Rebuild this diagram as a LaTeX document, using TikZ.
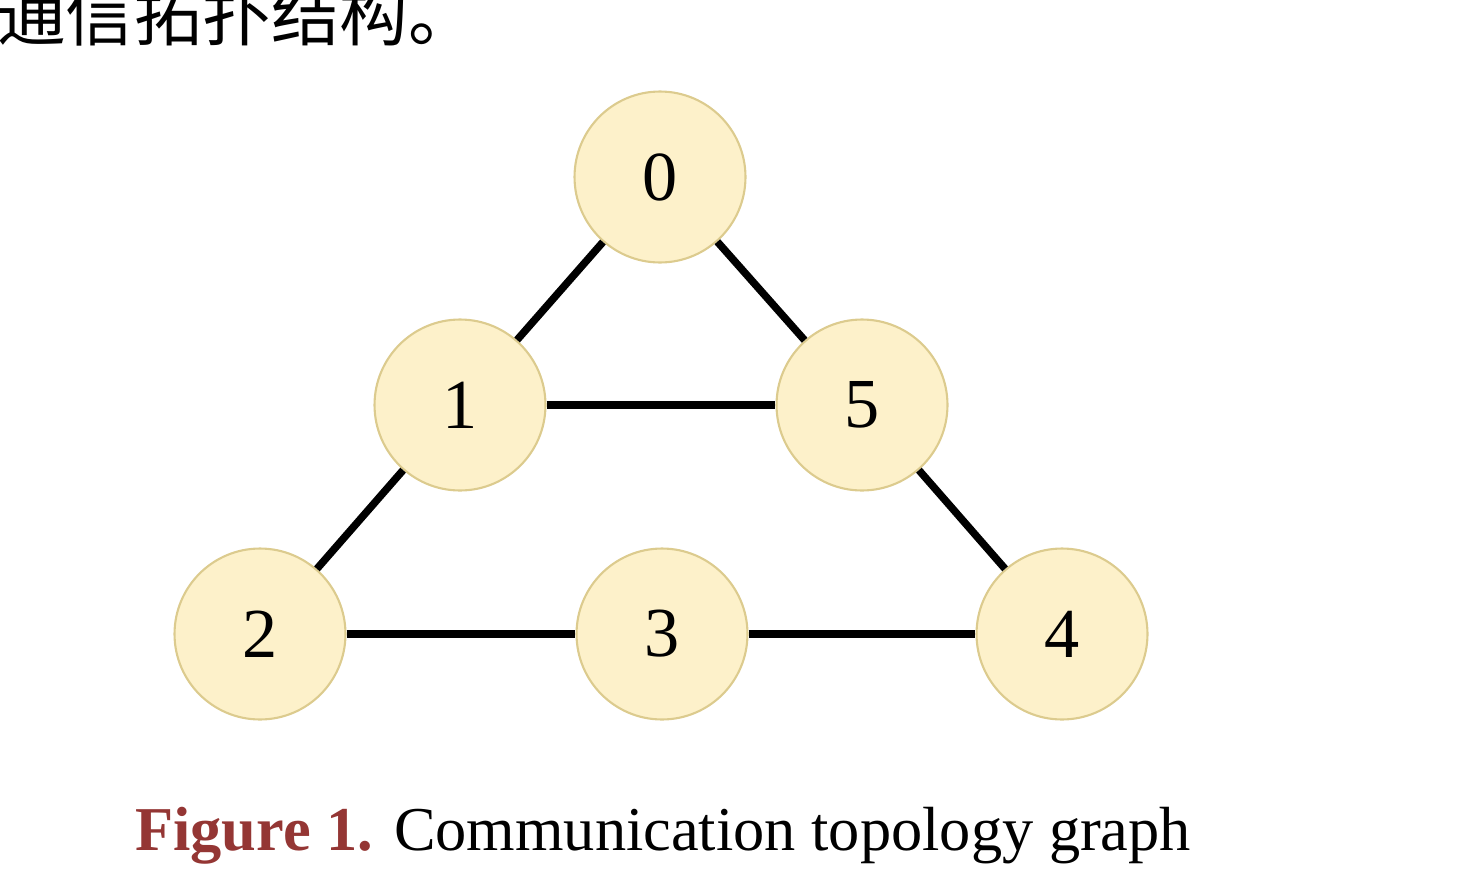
\documentclass[tikz,border=0pt]{standalone}
\usepackage{fontspec}
\setmainfont{Liberation Serif}
\newfontfamily\cjk{Noto Sans CJK SC}
\usepackage{xcolor}
\usetikzlibrary{positioning}
\definecolor{nodefill}{HTML}{FDF1CA}
\definecolor{nodeedge}{HTML}{DCCB8E}
\definecolor{capred}{HTML}{943634}
\tikzset{
    agent/.style={circle, draw=nodeedge, line width=1.2pt, fill=nodefill,
        minimum size=3.42cm, inner sep=0pt, font=\fontsize{40}{48}\selectfont},
    link/.style={line width=0.15cm, black}
}

\begin{document}
\begin{tikzpicture}[x=0.02cm, y=-0.02cm, line join = round]
    \useasboundingbox (0,0) rectangle (1473,872);

    % text cut at the top
    \node[anchor=base west, inner sep=0pt, font=\cjk\fontsize{39}{44}\selectfont] (head) at (-3,40) {通信拓扑结构。};

    % agents
    \node[agent] (0) at (660,177) {0};
    \node[agent] (1) at (460,405) {1};
    \node[agent] (5) at (862,405) {5};
    \node[agent] (2) at (260,634) {2};
    \node[agent] (3) at (662,634) {3};
    \node[agent] (4) at (1062,634) {4};

    % links
    \draw[link] (0) -- (1);
    \draw[link] (0) -- (5);
    \draw[link] (1) -- (5);
    \draw[link] (1) -- (2);
    \draw[link] (5) -- (4);
    \draw[link] (2) -- (3);
    \draw[link] (3) -- (4);

    % caption
    \node[anchor=base west, inner sep=0pt, font=\fontsize{35.5}{40}\selectfont] (cap) at (135,850)
        {\textcolor{capred}{\textbf{Figure 1.}} Communication topology graph};

\end{tikzpicture}
\end{document}
